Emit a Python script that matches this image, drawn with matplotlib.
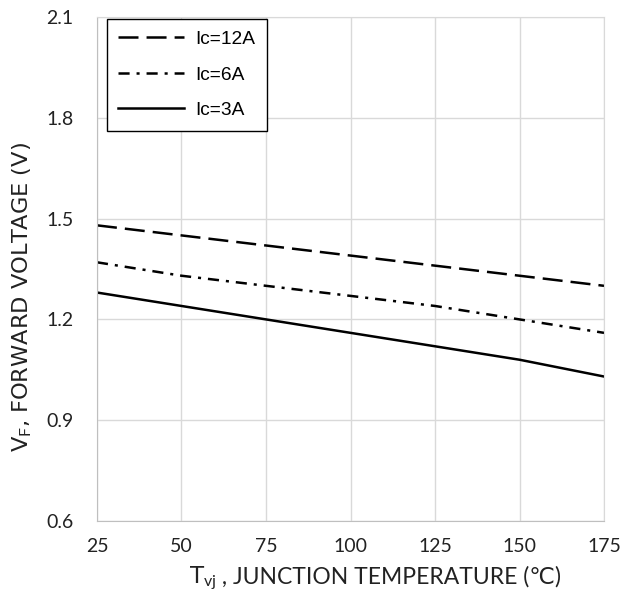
import matplotlib.pyplot as plt
from matplotlib.offsetbox import TextArea, HPacker, AnchoredOffsetbox
import numpy as np

plt.rcParams['lines.scale_dashes'] = False
plt.rcParams['mathtext.fontset'] = 'custom'
plt.rcParams['mathtext.rm'] = 'Lato'
plt.rcParams['mathtext.it'] = 'Lato'

# Data
temps = [25, 50, 75, 100, 125, 150, 175]
vf_12a = [1.48, 1.45, 1.42, 1.39, 1.36, 1.33, 1.30]
vf_6a = [1.37, 1.33, 1.30, 1.27, 1.24, 1.20, 1.16]
vf_3a = [1.28, 1.24, 1.20, 1.16, 1.12, 1.08, 1.03]
labels = ['Ic=12A', 'Ic=6A', 'Ic=3A']

x_ticks = [25, 50, 75, 100, 125, 150, 175]
y_ticks = [0.6, 0.9, 1.2, 1.5, 1.8, 2.1]

fig = plt.figure(figsize=(6.24, 5.97), dpi=100)
ax = fig.add_axes([0.1554, 0.1273, 0.8126, 0.8442])

ax.plot(temps, vf_12a, color='black', lw=1.8, dashes=(14.4, 5.8), label=labels[0])
ax.plot(temps, vf_6a, color='black', lw=1.8, dashes=(8, 5, 2.2, 5), label=labels[1])
ax.plot(temps, vf_3a, color='black', lw=1.8, label=labels[2])

ax.set_xlim(25, 175)
ax.set_ylim(0.6, 2.1)
ax.set_xticks(x_ticks)
ax.set_yticks(y_ticks)
ax.set_yticklabels([f'{v:.1f}' for v in y_ticks])
ax.grid(True, color='#d9d9d9', linewidth=1)
ax.tick_params(length=0, labelsize=14)
ax.tick_params(axis='x', pad=12)
ax.tick_params(axis='y', pad=17)
for lab in ax.get_xticklabels() + ax.get_yticklabels():
    lab.set_family(['Lato', 'DejaVu Sans'])
    lab.set_color('#222222')
for s in ax.spines.values():
    s.set_color('#d9d9d9')
ax.spines['left'].set_color('#bfbfbf')
ax.spines['bottom'].set_color('#bfbfbf')

# y label
fig.text(22 / 624, 1 - 297 / 597, r'V$_{\mathrm{F}}$, FORWARD VOLTAGE (V)', fontsize=16.2,
         rotation=90, ha='center', va='center', color='#222222')

# x label: subscript part in mathtext, the rest as plain text so ℃ can fall back
part1 = TextArea(r'T$_{\mathrm{vj}}$', textprops=dict(fontsize=16.5, color='#222222'))
part2 = TextArea(' , JUNCTION TEMPERATURE (℃)',
                 textprops=dict(fontsize=16.5, color='#222222', family=['Lato', 'DejaVu Sans']))
xlab = HPacker(children=[part1, part2], align='baseline', pad=0, sep=0)
anch = AnchoredOffsetbox(loc='center', child=xlab, frameon=False, pad=0,
                         bbox_to_anchor=(375 / 624, 1 - 578 / 597),
                         bbox_transform=fig.transFigure, borderpad=0)
fig.add_artist(anch)

leg = ax.legend(loc='upper left', bbox_to_anchor=(0.0197, 0.996), frameon=True,
                fancybox=False, edgecolor='black', framealpha=1,
                prop={'family': 'Liberation Sans', 'size': 13.8},
                handlelength=3.4, handletextpad=0.6, labelspacing=0.95,
                borderpad=0.6, borderaxespad=0)
leg.get_frame().set_linewidth(1.0)

fig.savefig('out.png', dpi=100)
